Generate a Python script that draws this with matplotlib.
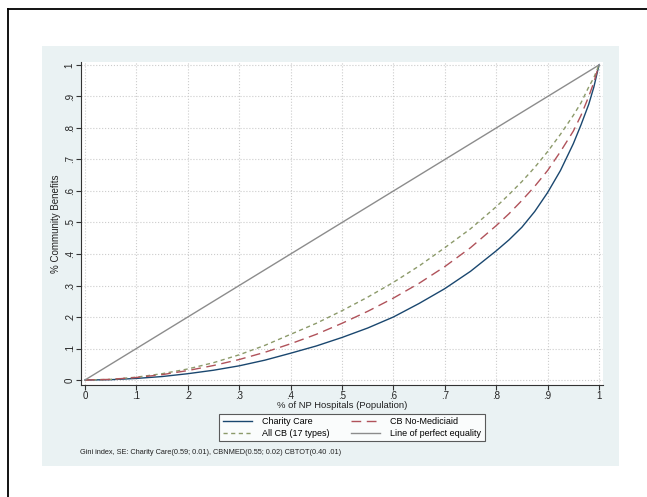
import matplotlib
matplotlib.use("Agg")
import matplotlib.pyplot as plt
from matplotlib.patches import Rectangle
from matplotlib.lines import Line2D

plt.rcParams['font.family'] = ['Liberation Sans', 'DejaVu Sans']

# cumulative share of hospitals (x) and of community benefits (y)
popShare = [0, 0.05, 0.1, 0.15, 0.2, 0.25, 0.3, 0.35, 0.4, 0.45, 0.5, 0.55,
            0.6, 0.65, 0.7, 0.75, 0.8, 0.825, 0.85, 0.875, 0.9, 0.925, 0.95,
            0.965, 0.98, 0.99, 1.0]
charityCare = [0, 0.001, 0.005, 0.011, 0.02, 0.031, 0.045, 0.063, 0.085, 0.108,
               0.135, 0.165, 0.2, 0.243, 0.29, 0.345, 0.41, 0.445, 0.485, 0.535,
               0.595, 0.665, 0.75, 0.81, 0.875, 0.93, 1.0]
cbNoMedicaid = [0, 0.002, 0.008, 0.017, 0.03, 0.046, 0.065, 0.088, 0.115, 0.145,
                0.18, 0.218, 0.26, 0.307, 0.36, 0.42, 0.49, 0.528, 0.57, 0.615,
                0.665, 0.725, 0.79, 0.84, 0.9, 0.945, 1.0]
allCB = [0, 0.002, 0.009, 0.02, 0.035, 0.055, 0.08, 0.11, 0.145, 0.18,
         0.22, 0.263, 0.31, 0.362, 0.42, 0.48, 0.55, 0.589, 0.63, 0.675,
         0.725, 0.78, 0.84, 0.88, 0.93, 0.96, 1.0]
equality = [0, 1]

xTicks = [0, 0.1, 0.2, 0.3, 0.4, 0.5, 0.6, 0.7, 0.8, 0.9, 1]
tickLabels = ["0", ".1", ".2", ".3", ".4", ".5", ".6", ".7", ".8", ".9", "1"]

W, H = 647, 497
fig = plt.figure(figsize=(W / 100, H / 100), dpi=100)
fig.patch.set_facecolor('white')

# stata-style light panel
fig.patches.append(Rectangle((42 / W, 1 - 466 / H), (619 - 42) / W, (466 - 46) / H,
                             transform=fig.transFigure, facecolor='#eaf2f3',
                             edgecolor='none', zorder=-10))
# frame lines on left and top
fig.add_artist(Line2D([8 / W, 8 / W], [0, 1 - 9 / H], transform=fig.transFigure,
                      color='black', lw=1.3))
fig.add_artist(Line2D([8 / W, 1], [1 - 9 / H, 1 - 9 / H], transform=fig.transFigure,
                      color='black', lw=1.3))

ax = fig.add_axes([81 / W, 1 - 385 / H, 522 / W, 323 / H])
ax.set_facecolor('white')
ax.set_zorder(1)

gridCol = '#cccccc'
axCol = '#333333'

lCC, = ax.plot(popShare, charityCare, color='#1a476f', lw=1.0, label='Charity Care')
lAll, = ax.plot(popShare, allCB, color='#8c9a6a', lw=1.0, ls=(0, (3, 2.5)),
                label='All CB (17 types)')
lNM, = ax.plot(popShare, cbNoMedicaid, color='#b0525a', lw=1.0, ls=(0, (7, 4)),
               label='CB No-Mediciaid')
lEq, = ax.plot(equality, equality, color='#8c8c8c', lw=1.0,
               label='Line of perfect equality')

ax.set_xlim(-4 / 514, 1 + 4 / 514)
ax.set_ylim(-5 / 315, 1 + 3 / 315)
ax.set_xticks(xTicks)
ax.set_xticklabels(tickLabels)
ax.set_yticks(xTicks)
ax.set_yticklabels(tickLabels, rotation=90, va='center')
ax.grid(True, color=gridCol, ls=':', lw=0.8)
ax.set_axisbelow(True)

for s in ['top', 'right']:
    ax.spines[s].set_visible(False)
for s in ['left', 'bottom']:
    ax.spines[s].set_color(axCol)
    ax.spines[s].set_linewidth(0.8)
ax.tick_params(colors=axCol, labelcolor='#222222', labelsize=7, length=3.5, width=0.8,
               pad=1)

ax.set_xlabel('% of NP Hospitals (Population)', fontsize=6.8, color='#222222', labelpad=0)
ax.set_ylabel('% Community Benefits', fontsize=7, color='#222222', labelpad=3)

leg = fig.legend(handles=[lCC, lAll, lNM, lEq], ncol=2, fontsize=6.5,
                 loc='center', bbox_to_anchor=(352 / W, 1 - 427.5 / H),
                 frameon=True, fancybox=False, handlelength=3.3,
                 columnspacing=2.3, borderpad=0.35, labelspacing=0.35,
                 handletextpad=1.1)
leg.get_frame().set_edgecolor('#333333')
leg.get_frame().set_linewidth(0.8)
leg.set_zorder(2)

fig.text(80 / W, 1 - 452 / H,
         'Gini index, SE: Charity Care(0.59; 0.01), CBNMED(0.55; 0.02) CBTOT(0.40 .01)',
         fontsize=5.3, color='#222222', va='center', ha='left')

fig.savefig('out.png', dpi=100)
